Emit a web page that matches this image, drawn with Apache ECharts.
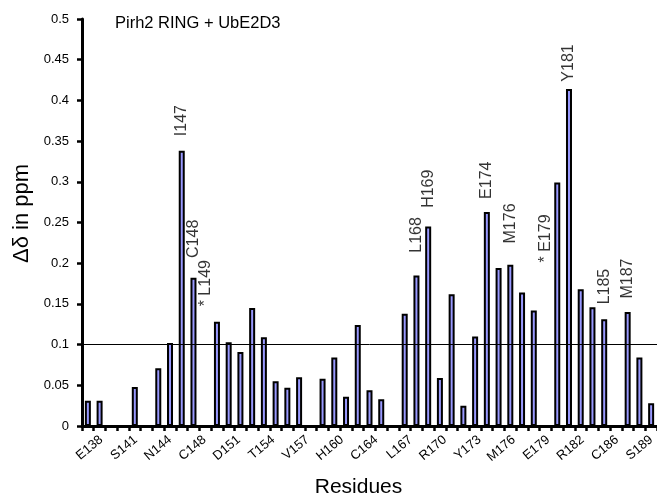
<!DOCTYPE html>
<html>
<head>
<meta charset="utf-8">
<script src="https://cdn.jsdelivr.net/npm/echarts@6/dist/echarts.min.js"></script>
<style>html,body{margin:0;padding:0;background:#fff}#c{width:657px;height:498px}</style>
</head>
<body>
<div id="c"></div>
<script>
// Residues (categories along the x axis)
var residues = ['E138','139','140','S141','142','143','N144','146','I147','C148',
  'L149','150','D151','152','153','T154','155','156','V157','158',
  '159','H160','161','163','C164','165','166','L167','L168','H169',
  'R170','171','172','Y173','E174','175','M176','177','178','E179',
  '180','Y181','R182','183','L185','C186','M187','188','S189'];
// Chemical shift perturbation (ppm)
var shifts = [0.031,0.031,0,0,0.048,0,0.071,0.102,0.338,0.182,
  0,0.128,0.103,0.091,0.145,0.109,0.055,0.047,0.060,0,
  0.058,0.084,0.036,0.124,0.044,0.033,0,0.138,0.185,0.245,
  0.059,0.162,0.025,0.110,0.263,0.194,0.198,0.164,0.142,0,
  0.299,0.414,0.168,0.146,0.131,0,0.140,0.084,0.028];
// Threshold line
var threshold = 0.1;
// y-axis ticks
var yMin = 0, yMax = 0.5, yStep = 0.05;
// Residue annotations above bars
var annoResidues = ['I147','C148','L149','L168','H169','E174','M176','E179','Y181','L185','M187'];
var annoTexts = ['I147','C148','* L149','L168','H169','E174','M176','* E179','Y181','L185','M187'];
var annoLevels = [0.356,0.204,0.147,0.219,0.268,0.279,0.223,0.207,0.423,0.147,0.159];
var annoShift = [0,2,0,-5,0,0,1,-5,0,2,-2];

var FONT = 'Liberation Sans, Arial, sans-serif';
var annoData = annoResidues.map(function (r, i) {
  return { name: annoTexts[i], value: [r, annoLevels[i]], label: { offset: [annoShift[i], 0] } };
});

var chart = echarts.init(document.getElementById('c'), null, { renderer: 'canvas' });
chart.setOption({
  animation: false,
  backgroundColor: '#fff',
  title: {
    text: 'Pirh2 RING + UbE2D3', left: 115, top: 15, padding: 0,
    textStyle: { fontFamily: FONT, fontSize: 16.5, fontWeight: 'normal', color: '#000' }
  },
  grid: [
    { left: 82, right: 0, top: 19, bottom: 72, containLabel: false, outerBoundsMode: 'none' },
    { left: 95.6, right: 0, top: 19, bottom: 72, containLabel: false, outerBoundsMode: 'none' }
  ],
  xAxis: [
    {
      type: 'category', gridIndex: 0, data: residues,
      name: 'Residues', nameLocation: 'middle', nameGap: 51,
      nameTextStyle: { fontFamily: FONT, fontSize: 21, color: '#000', padding: [0, 22, 0, 0] },
      axisLine: { lineStyle: { color: '#000', width: 3 } },
      axisTick: { show: true, interval: 0, length: 5, lineStyle: { color: '#000', width: 2.5 } },
      axisLabel: { show: false }
    },
    {
      type: 'category', gridIndex: 1, data: residues,
      axisLine: { show: false }, axisTick: { show: false },
      axisLabel: { interval: 2, rotate: 40, margin: 12, fontFamily: FONT, fontSize: 13, color: '#000' }
    }
  ],
  yAxis: [
    {
      type: 'value', gridIndex: 0, min: yMin, max: yMax, interval: yStep,
      name: 'Δδ in ppm', nameLocation: 'middle', nameGap: 49,
      nameTextStyle: { fontFamily: FONT, fontSize: 22, color: '#000', padding: [0, 0, 0, 18] },
      axisLine: { show: true, lineStyle: { color: '#000', width: 3 } },
      axisTick: { show: true, length: 5, lineStyle: { color: '#000', width: 2.5 } },
      axisLabel: { margin: 13, fontFamily: FONT, fontSize: 13, color: '#000' },
      splitLine: { show: false }
    },
    { type: 'value', gridIndex: 1, min: yMin, max: yMax, show: false }
  ],
  series: [
    {
      type: 'bar', xAxisIndex: 0, yAxisIndex: 0, data: shifts,
      barWidth: 6,
      itemStyle: { color: '#9999ff', borderColor: '#000', borderWidth: 2 },
      markLine: {
        silent: true, symbol: 'none', label: { show: false },
        lineStyle: { color: '#000', width: 1, type: 'solid' },
        data: [{ yAxis: threshold }]
      }
    },
    {
      type: 'scatter', xAxisIndex: 0, yAxisIndex: 0, data: annoData,
      symbolSize: 1, itemStyle: { color: 'rgba(0,0,0,0)' }, silent: true,
      label: {
        show: true, formatter: '{b}', position: 'inside', rotate: 90,
        align: 'left', verticalAlign: 'middle',
        fontFamily: FONT, fontSize: 16, color: '#000'
      }
    }
  ]
});
</script>
</body>
</html>
